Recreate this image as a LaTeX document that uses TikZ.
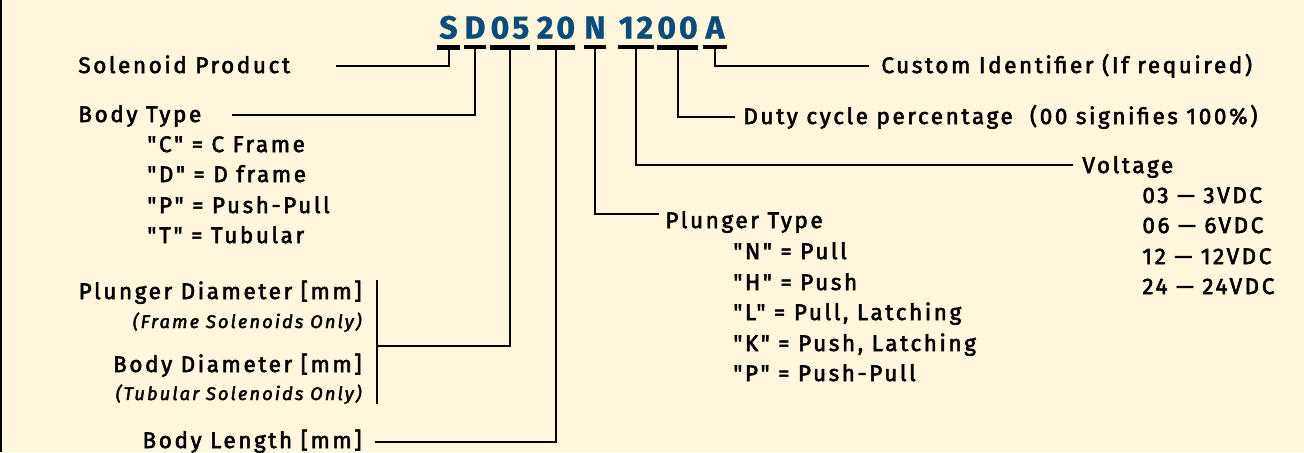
\documentclass[tikz,border=0pt]{standalone}
\usepackage{fontspec}
\setmainfont{Fira Sans}[Ligatures=TeXOff,LetterSpace=11.5,FakeBold=2.4]
\newfontfamily\codefont{Fira Sans Bold}[LetterSpace=9,FakeBold=1]
\usetikzlibrary{calc}
\definecolor{paper}{RGB}{255,246,220}
\definecolor{codeblue}{RGB}{11,77,122}
\newcommand{\dq}{\char34\relax}

\begin{document}
\begin{tikzpicture}[x=0.5pt,y=-0.5pt,
	lbl/.style={inner sep=0pt,anchor=base west,font=\fontsize{11.25}{13}\selectfont},
	lblr/.style={lbl,anchor=base east},
	note/.style={lblr,font=\fontsize{9.15}{11}\selectfont\itshape},
	code/.style={inner sep=0pt,anchor=base,text=codeblue,font=\codefont\fontsize{16}{19}\selectfont},
	bar/.style={line width=2.2pt},
	lead/.style={line width=1pt},
	brk/.style={line width=0.75pt}
	]
	\useasboundingbox (0,0) rectangle (1304,452);
	\fill[paper] (0,0) rectangle (1304,452);
	\draw[line width=1pt] (1,0) -- (1,452);
	
	\node[code,minimum width=11pt] (gS) at (448.5,38.5) {S};
	\node[code,minimum width=10.5pt] (gD) at (475,38.5) {D};
	\node[code,minimum width=18pt] (g05) at (510,38.5) {05};
	\node[code,minimum width=18pt] (g20) at (556,38.5) {20};
	\node[code,minimum width=10.5pt] (gN) at (595,38.5) {N};
	\node[code,minimum width=17pt] (g12) at (636,38.5) {12};
	\node[code,minimum width=18pt] (g00) at (677.5,38.5) {00};
	\node[code,minimum width=11.5pt] (gA) at (715,38.5) {A};
	\foreach \g in {gS,gD,g05,g20,gN,g12,g00,gA}{
		\draw[bar] ([yshift=-4pt]\g.south west) -- ([yshift=-4pt]\g.south east);
		\coordinate (s\g) at ([yshift=-4pt]\g.south);
	}
	
	\node[lbl] (solprod) at (78,73) {Solenoid Product};
	\node[lbl] (btype) at (78,122) {Body Type};
	\node[lbl] (bt1) at (147,152) {\dq C\dq\ = C Frame};
	\node[lbl] (bt2) at (147,182) {\dq D\dq\ = D frame};
	\node[lbl] (bt3) at (147,213) {\dq P\dq\ = Push-Pull};
	\node[lbl] (bt4) at (147,243) {\dq T\dq\ = Tubular};
	\node[lblr] (pdia) at (362,299) {Plunger Diameter [mm]};
	\node[note] (pnote) at (362,328) {(Frame Solenoids Only)};
	\node[lblr] (bdia) at (362,372) {Body Diameter [mm]};
	\node[note] (tdia) at (362,400) {(Tubular Solenoids Only)};
	\node[lblr] (blen) at (362,448) {Body Length [mm]};
	
	\node[lbl] (ptype) at (665,228) {Plunger Type};
	\node[lbl] (pt1) at (733,259) {\dq N\dq\ = Pull};
	\node[lbl] (pt2) at (733,290) {\dq H\dq\ = Push};
	\node[lbl] (pt3) at (733,320) {\dq L\dq\ = Pull, Latching};
	\node[lbl] (pt4) at (733,351) {\dq K\dq\ = Push, Latching};
	\node[lbl] (pt5) at (733,381) {\dq P\dq\ = Push-Pull};
	
	\node[lbl] (volt) at (1082,173) {Voltage};
	\node[lbl] (v1) at (1142,203) {03 — 3VDC};
	\node[lbl] (v2) at (1142,233) {06 — 6VDC};
	\node[lbl] (v3) at (1142,264) {12 — 12VDC};
	\node[lbl] (v4) at (1142,294) {24 — 24VDC};
	
	\node[lbl] (duty) at (743,124) {Duty cycle percentage~~(00 signifies 100\%)};
	\node[lbl] (cust) at (881,73) {Custom Identifier (If required)};
	
	\coordinate (brtop) at ([xshift=7.5pt]pdia.north east);
	\coordinate (brbot) at (brtop |- tdia.south);
	\coordinate (brmid) at ($(brtop)!0.53!(brbot)$);
	\draw[brk] (brtop) -- (brbot);
	
	\draw[lead] (sgS) |- ([xshift=23pt,yshift=3.5pt]solprod.base east);
	\draw[lead] (sgD) |- ([xshift=15pt,yshift=3.4pt]btype.base east);
	\draw[lead] (sg05) |- (brmid);
	\draw[lead] (sg20) |- ([xshift=6.5pt,yshift=3.2pt]blen.base east);
	\draw[lead] (sgN) |- ([xshift=-3pt,yshift=7pt]ptype.base west);
	\draw[lead] (sg12) |- ([xshift=-4.5pt,yshift=4pt]volt.base west);
	\draw[lead] (sg00) |- ([xshift=-4pt,yshift=3.5pt]duty.base west);
	\draw[lead] (sgA) |- ([xshift=-6pt,yshift=3.5pt]cust.base west);
\end{tikzpicture}
\end{document}
